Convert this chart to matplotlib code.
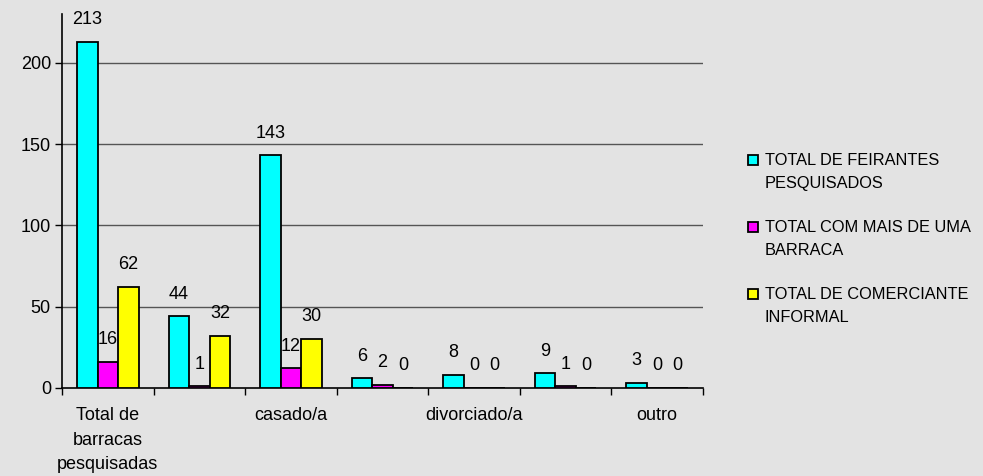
import numpy as np
import matplotlib.pyplot as plt
from matplotlib.patches import Rectangle

plt.rcParams['font.family'] = ['Liberation Sans', 'DejaVu Sans']

categories = ['Total de\nbarracas\npesquisadas', '', 'casado/a', '', 'divorciado/a', '', 'outro']
series_names = ['TOTAL DE FEIRANTES\nPESQUISADOS',
                'TOTAL COM MAIS DE UMA\nBARRACA',
                'TOTAL DE COMERCIANTE\nINFORMAL']
feirantes = [213, 44, 143, 6, 8, 9, 3]
mais_de_uma = [16, 1, 12, 2, 0, 1, 0]
informal = [62, 32, 30, 0, 0, 0, 0]
colors = ['#00FFFF', '#FF00FF', '#FFFF00']

bg = '#e3e3e3'
fig = plt.figure(figsize=(9.83, 4.76), dpi=100, facecolor=bg)
ax = fig.add_axes([0.0631, 0.1849, 0.652, 0.7857], facecolor=bg)

x = np.arange(len(categories))
w = 0.224
for i, (vals, col) in enumerate(zip([feirantes, mais_de_uma, informal], colors)):
    pos = x + (i - 1) * w
    ax.bar(pos, vals, width=w, color=col, edgecolor='black', linewidth=1.3, zorder=3)
    for px, v in zip(pos, vals):
        ax.annotate(str(v), (px, v), xytext=(0, 16), textcoords='offset points',
                    ha='center', va='center', fontsize=13)

ax.set_xlim(-0.5, 6.5)
ax.set_ylim(0, 230)
ax.set_yticks([0, 50, 100, 150, 200])
ax.tick_params(axis='y', labelsize=13, length=5, width=1, direction='out', pad=3)
for y in [50, 100, 150, 200]:
    ax.axhline(y, color='#555555', linewidth=1, zorder=1)

ax.set_xticks(x)
ax.set_xticklabels(categories, fontsize=13, linespacing=1.55)
ax.tick_params(axis='x', which='major', length=0, pad=14)
ax.set_xticks(np.arange(-0.5, 7, 1), minor=True)
ax.tick_params(axis='x', which='minor', length=5, width=1, direction='out')

ax.spines['top'].set_visible(False)
ax.spines['right'].set_visible(False)
ax.spines['left'].set_linewidth(1.2)
ax.spines['bottom'].set_linewidth(1.2)

# legend drawn by hand so the square sits beside the first line
W, H = fig.get_size_inches() * fig.dpi
for i, (name, col) in enumerate(zip(series_names, colors)):
    yc = 160 + i * 67
    fig.patches.append(Rectangle((748 / W, 1 - (yc + 5) / H), 10 / W, 10 / H,
                                 facecolor=col, edgecolor='black', linewidth=1.3,
                                 transform=fig.transFigure, figure=fig))
    fig.text(765 / W, 1 - (yc - 7) / H, name, fontsize=11.8, va='top', ha='left',
             linespacing=1.65)

plt.savefig('out.png', dpi=100, facecolor=bg)
plt.close()
